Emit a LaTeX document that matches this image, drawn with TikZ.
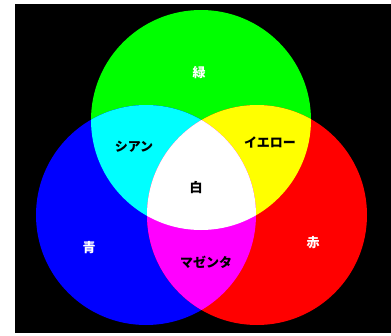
\documentclass[tikz,border=0pt]{standalone}
\usepackage{fontspec}
\newfontfamily\jpfont{Noto Sans CJK JP}

\definecolor{cian}{RGB}{0,255,255}
\definecolor{amarillo}{RGB}{255,255,0}
\definecolor{magentapuro}{RGB}{255,0,255}
\definecolor{verdepuro}{RGB}{0,255,0}
\definecolor{azulpuro}{RGB}{0,0,255}
\definecolor{rojopuro}{RGB}{255,0,0}

\tikzset{
  etiqueta/.style={font=\jpfont\bfseries\fontsize{13}{13}\selectfont, inner sep=0pt},
  clara/.style={etiqueta, text=white},
  oscura/.style={etiqueta, text=black}
}

\begin{document}
\begin{tikzpicture}[x=1pt,y=-1pt] % un punto por pixel

    % Fondo negro
    \useasboundingbox (0,0) rectangle (391,335);
    \fill[black] (15,4) rectangle (391,333);

    % Centros de los círculos
    \coordinate (verde) at (201,120);
    \coordinate (azul) at (146,215);
    \coordinate (rojo) at (257,215);

    % Círculos primarios
    \fill[verdepuro] (verde) circle (110);
    \fill[azulpuro] (azul) circle (110);
    \fill[rojopuro] (rojo) circle (110);

    % Mezclas de dos colores
    \begin{scope}
        \clip (verde) circle (110);
        \fill[cian] (azul) circle (110);
        \fill[amarillo] (rojo) circle (110);
    \end{scope}
    \begin{scope}
        \clip (azul) circle (110);
        \fill[magentapuro] (rojo) circle (110);
    \end{scope}

    % Mezcla de los tres
    \begin{scope}
        \clip (verde) circle (110);
        \clip (azul) circle (110);
        \fill[white] (rojo) circle (110);
    \end{scope}

    % Etiquetas
    \node[clara] (lverde) at (199,73) {緑};
    \node[clara] (lazul) at (89,248) {青};
    \node[clara] (lrojo) at (313,243) {赤};
    \node[oscura] (lcian) at (134,147) {シアン};
    \node[oscura] (lamarillo) at (270,142) {イエロー};
    \node[oscura] (lmagenta) at (206,262) {マゼンタ};
    \node[oscura] (lblanco) at (196,188) {白};
\end{tikzpicture}
\end{document}
